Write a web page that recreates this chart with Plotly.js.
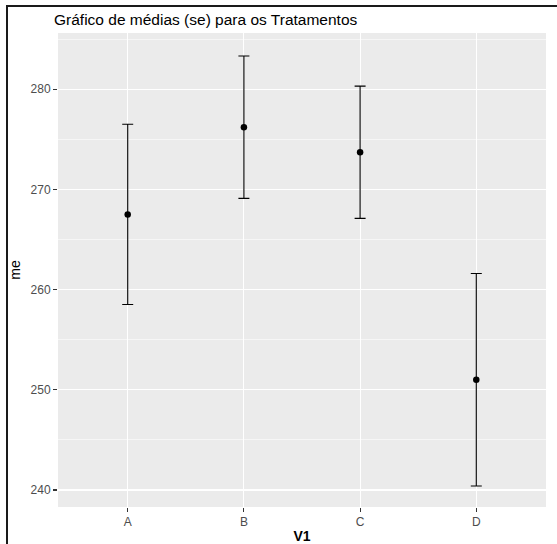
<!DOCTYPE html>
<html>
<head>
<meta charset="utf-8">
<script src="https://cdn.plot.ly/plotly-3.0.1.min.js"></script>
<style>
html,body{margin:0;padding:0;background:#fff;}
#wrap{position:relative;width:557px;height:544px;}
#chart{width:557px;height:544px;}
#frame{position:absolute;left:6px;top:5px;right:0;bottom:0;border-left:2px solid #1a1a1a;border-top:2px solid #1a1a1a;pointer-events:none;}
</style>
</head>
<body>
<div id="wrap"><div id="chart"></div><div id="frame"></div></div>
<script>
const categories = ["A", "B", "C", "D"];
const means = [267.5, 276.2, 273.7, 251.0];
const se = [9.0, 7.1, 6.6, 10.6];
const yTicks = [240, 250, 260, 270, 280];

const trace = {
  type: "scatter",
  mode: "markers",
  x: categories,
  y: means,
  marker: {color: "#000", size: 6.5},
  error_y: {type: "data", array: se, visible: true, color: "#000", thickness: 1.1, width: 5.5},
  hoverinfo: "none",
  showlegend: false
};

const font = "Liberation Sans, Arial, sans-serif";
const layout = {
  width: 557, height: 544,
  margin: {l: 58, r: 11, t: 33, b: 37, pad: 0},
  paper_bgcolor: "#fff",
  plot_bgcolor: "#EBEBEB",
  font: {family: font, color: "#4D4D4D", size: 12},
  title: {text: "Gráfico de médias (se) para os Tratamentos", x: 0.097, xref: "container", xanchor: "left",
          y: 1, yref: "container", yanchor: "top", pad: {t: 14}, font: {family: font, size: 15.5, color: "#000"}},
  xaxis: {
    type: "category", categoryarray: categories, range: [-0.6, 3.6],
    showgrid: true, gridcolor: "#fff", gridwidth: 1.1,
    ticks: "outside", ticklen: 4, tickcolor: "#333", tickwidth: 1.1,
    tickfont: {size: 12, color: "#4D4D4D"},
    zeroline: false, showline: false,
    title: {text: "<b>V1</b>", standoff: 3, font: {size: 14, color: "#000"}}
  },
  yaxis: {
    range: [238.3, 285.6], tickvals: yTicks, ticktext: yTicks.map(String),
    showgrid: true, gridcolor: "#fff", gridwidth: 1.1,
    minor: {tickvals: [245, 255, 265, 275, 285], showgrid: true, gridcolor: "#fff", gridwidth: 0.55, ticklen: 0},
    ticks: "outside", ticklen: 4, tickcolor: "#333", tickwidth: 1.1,
    tickfont: {size: 12, color: "#4D4D4D"},
    zeroline: false, showline: false,
    title: {text: "me", standoff: 6, font: {size: 14, color: "#000"}}
  }
};

Plotly.newPlot("chart", [trace], layout, {staticPlot: true, displayModeBar: false});
</script>
</body>
</html>
